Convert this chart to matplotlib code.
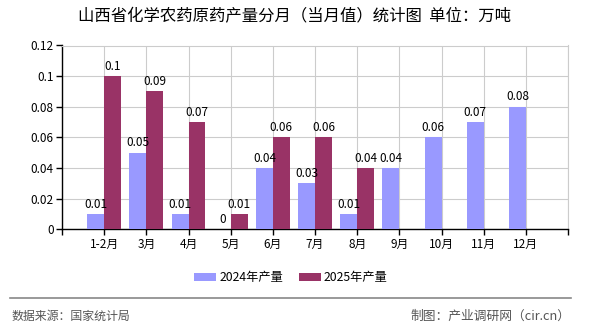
import matplotlib
matplotlib.use("Agg")
import matplotlib.pyplot as plt
import numpy as np

plt.rcParams['font.family'] = ['Noto Sans CJK SC', 'DejaVu Sans']

categories = ["1-2月", "3月", "4月", "5月", "6月", "7月", "8月", "9月", "10月", "11月", "12月"]
values_2024 = [0.01, 0.05, 0.01, 0, 0.04, 0.03, 0.01, 0.04, 0.06, 0.07, 0.08]
values_2025 = [0.1, 0.09, 0.07, 0.01, 0.06, 0.06, 0.04]
labels_2024 = ["0.01", "0.05", "0.01", "0", "0.04", "0.03", "0.01", "0.04", "0.06", "0.07", "0.08"]
labels_2025 = ["0.1", "0.09", "0.07", "0.01", "0.06", "0.06", "0.04"]
yticks = [0, 0.02, 0.04, 0.06, 0.08, 0.1, 0.12]
ytick_labels = ["0", "0.02", "0.04", "0.06", "0.08", "0.1", "0.12"]
series_names = ["2024年产量", "2025年产量"]
title = "山西省化学农药原药产量分月（当月值）统计图  单位：万吨"
source = "数据来源：国家统计局"
maker = "制图：产业调研网（cir.cn）"

c24 = "#9999FF"
c25 = "#993366"

fig = plt.figure(figsize=(5.9, 3.3), dpi=100)
ax = fig.add_axes([62/590, 1-229.3/330, (568-62)/590, (229.3-45.5)/330])

x24 = np.arange(1, len(values_2024) + 1)
x25 = np.arange(1, len(values_2025) + 1)
w = 0.4
b1 = ax.bar(x24 - w/2, values_2024, width=w, color=c24, label=series_names[0], zorder=3)
b2 = ax.bar(x25 + w/2, values_2025, width=w, color=c25, label=series_names[1], zorder=3)

for xi, v, t in zip(x24, values_2024, labels_2024):
    ax.text(xi - w/2, v + 0.0022, t, ha='center', va='bottom', fontsize=8.5, zorder=4)
for xi, v, t in zip(x25, values_2025, labels_2025):
    ax.text(xi + w/2, v + 0.0022, t, ha='center', va='bottom', fontsize=8.5, zorder=4)

ax.set_xlim(0, 12)
ax.set_ylim(0, 0.12)
ax.set_xticks(np.arange(0, 13))
ax.set_xticklabels([""] + categories + [""], fontsize=8.5)
ax.set_yticks(yticks)
ax.set_yticklabels(ytick_labels, fontsize=8.5)
ax.grid(True, color="#CCCCCC", linewidth=0.8, zorder=0)
for s in ["top", "right"]:
    ax.spines[s].set_color("#CCCCCC")
    ax.spines[s].set_linewidth(0.8)
for s in ["left", "bottom"]:
    ax.spines[s].set_color("black")
    ax.spines[s].set_linewidth(1.0)
ax.tick_params(axis='both', length=4, width=1, colors='black', pad=2)

fig.text(294.5/590, 1-16.5/330, title, ha='center', va='center', fontsize=11.8)

leg = fig.legend(handles=[b1, b2], labels=series_names, loc='center', bbox_to_anchor=(291/590, 1-277.5/330),
                 ncol=2, frameon=False, fontsize=8.8, handlelength=1.8, handleheight=0.65,
                 columnspacing=1.3, handletextpad=0.25, borderpad=0.1)

fig.add_artist(plt.Line2D([10/590, 571/590], [1-298.3/330, 1-298.3/330], color="#888888", linewidth=1.2))
fig.text(11/590, 1-316.7/330, source, ha='left', va='center', fontsize=8.6, color="#555555")
fig.text(570/590, 1-316.7/330, maker, ha='right', va='center', fontsize=9.2, color="#555555")

fig.savefig("out.png", dpi=100)
